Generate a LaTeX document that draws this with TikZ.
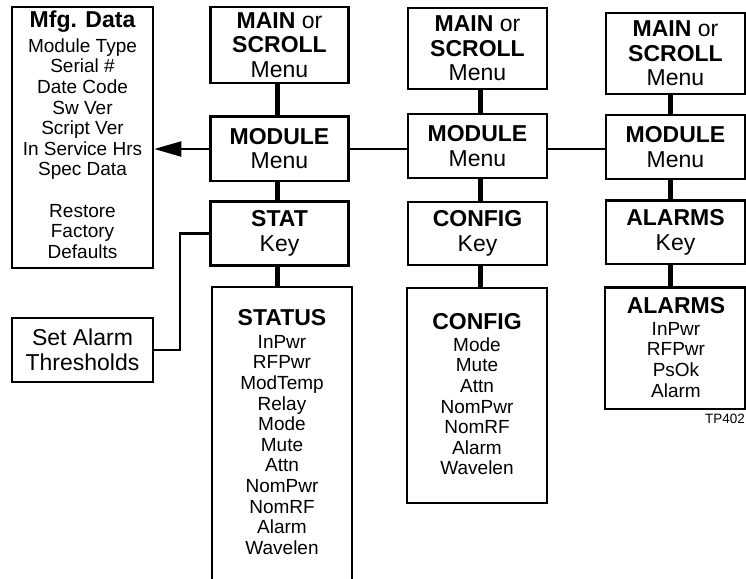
\documentclass[tikz,border=0pt]{standalone}
\usepackage{fontspec}
\setmainfont{Liberation Sans}
\usetikzlibrary{arrows.meta}
\newcommand{\hdrfont}{\fontsize{23}{24.5}\selectfont}
\newcommand{\itemfont}{\fontsize{19}{20.6}\selectfont}
\begin{document}
\begin{tikzpicture}[x=1pt,y=-1pt,
  boxframe/.style={draw=black, line width=2.6pt, rectangle, inner sep=0pt, align=center, font=\hdrfont},
  conn/.style={draw=black, line width=5pt},
  link/.style={draw=black, line width=2.3pt},
  listtitle/.style={anchor=base, inner sep=0pt, font=\hdrfont\bfseries},
  listbody/.style={anchor=north, inner sep=0pt, align=center, font=\itemfont}]
\path[fill=white] (0,0) rectangle (746,578);
\useasboundingbox (0,0) rectangle (746,578);

% Mfg data
\node[boxframe, minimum width=141pt, minimum height=261pt] (mfg) at (82.5,137.5) {};
\node[listtitle] (mfgt) at (82.5,28) {Mfg. Data};
\node[listbody] (mfgb) at (82.5,37) {\rule{0pt}{15pt}Module Type\\Serial \#\\Date Code\\Sw Ver\\Script Ver\\In Service Hrs\\Spec Data\\[20.6pt]Restore\\Factory\\Defaults};

% Set alarm thresholds
\node[boxframe, minimum width=141pt, minimum height=64pt] (thr) at (82.5,350) {Set Alarm\\Thresholds};

% Column 1
\node[boxframe, minimum width=138pt, minimum height=76pt] (main1) at (279.5,45) {\textbf{MAIN} or\\\textbf{SCROLL}\\Menu};
\node[boxframe, minimum width=138pt, minimum height=64.5pt] (mod1) at (279.5,148.75) {\textbf{MODULE}\\Menu};
\node[boxframe, minimum width=138pt, minimum height=64pt] (stat) at (279.5,233.5) {\textbf{STAT}\\Key};
\node[boxframe, minimum width=140pt, minimum height=313pt] (status) at (282,443.5) {};
\node[listtitle] (statust) at (282,325) {STATUS};
\node[listbody] (statusb) at (282,333) {\rule{0pt}{15pt}InPwr\\RFPwr\\ModTemp\\Relay\\Mode\\Mute\\Attn\\NomPwr\\NomRF\\Alarm\\Wavelen};

% Column 2
\node[boxframe, minimum width=139pt, minimum height=81pt] (main2) at (477.5,48.5) {\textbf{MAIN} or\\\textbf{SCROLL}\\Menu};
\node[boxframe, minimum width=139pt, minimum height=64pt] (mod2) at (477.5,146) {\textbf{MODULE}\\Menu};
\node[boxframe, minimum width=139pt, minimum height=63pt] (cfgkey) at (477.5,233.5) {\textbf{CONFIG}\\Key};
\node[boxframe, minimum width=140pt, minimum height=215pt] (cfglist) at (477,395.5) {};
\node[listtitle] (cfgt) at (477,329) {CONFIG};
\node[listbody] (cfgb) at (477,336) {\rule{0pt}{15pt}Mode\\Mute\\Attn\\NomPwr\\NomRF\\Alarm\\Wavelen};

% Column 3
\node[boxframe, minimum width=139pt, minimum height=81pt] (main3) at (675.5,53.5) {\textbf{MAIN} or\\\textbf{SCROLL}\\Menu};
\node[boxframe, minimum width=139pt, minimum height=64pt] (mod3) at (675.5,147) {\textbf{MODULE}\\Menu};
\node[boxframe, minimum width=139pt, minimum height=63.5pt] (alkey) at (675.5,232.25) {\textbf{ALARMS}\\Key};
\node[boxframe, minimum width=140pt, minimum height=121.5pt] (allist) at (675,348.25) {};
\node[listtitle] (alt) at (676,313) {ALARMS};
\node[listbody] (alb) at (676,320) {\rule{0pt}{15pt}InPwr\\RFPwr\\PsOk\\Alarm};

\node[anchor=base east, inner sep=0pt, font=\fontsize{13.5}{15}\selectfont] (tp) at (745,423) {TP402};

% connectors
\coordinate (c1) at (277,0);
\coordinate (c2) at (480,0);
\coordinate (c3) at (670,0);
\coordinate (h) at (0,149);
\coordinate (bend) at (180,0);

\draw[conn] (main1.south -| c1) -- (mod1.north -| c1);
\draw[conn] (mod1.south -| c1) -- (stat.north -| c1);
\draw[conn] (stat.south -| c1) -- (status.north -| c1);
\draw[conn] (main2.south -| c2) -- (mod2.north -| c2);
\draw[conn] (mod2.south -| c2) -- (cfgkey.north -| c2);
\draw[conn] (cfgkey.south -| c2) -- (cfglist.north -| c2);
\draw[conn] (main3.south -| c3) -- (mod3.north -| c3);
\draw[conn] (mod3.south -| c3) -- (alkey.north -| c3);
\draw[conn] (alkey.south -| c3) -- (allist.north -| c3);

\draw[link] (mod1.east |- h) -- (mod2.west |- h);
\draw[link] (mod2.east |- h) -- (mod3.west |- h);
\draw[link, -{Triangle[length=27pt,width=15pt]}] (mod1.west |- h) -- (mfg.east |- h);
\draw[link] (thr.east) -| (bend |- stat.west) -- (stat.west);
\end{tikzpicture}
\end{document}
